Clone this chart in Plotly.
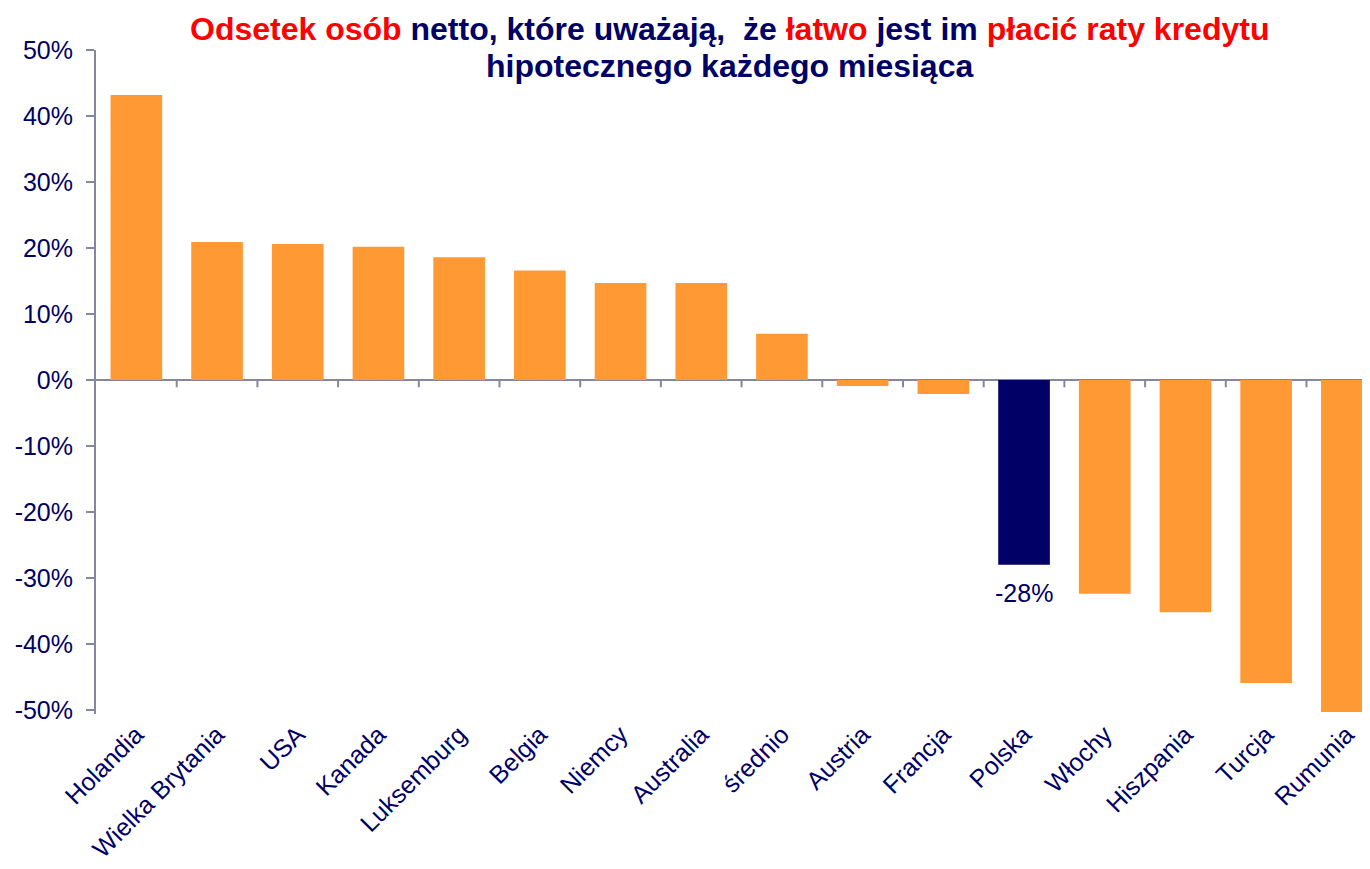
import plotly.graph_objects as go

categories = ["Holandia", "Wielka Brytania", "USA", "Kanada", "Luksemburg", "Belgia",
              "Niemcy", "Australia", "średnio", "Austria", "Francja", "Polska",
              "Włochy", "Hiszpania", "Turcja", "Rumunia"]
values = [43.2, 20.9, 20.6, 20.2, 18.6, 16.6, 14.7, 14.7, 7.0, -0.9, -2.1, -28.0,
          -32.4, -35.2, -45.9, -50.3]
highlight = "Polska"
y_ticks = [-50, -40, -30, -20, -10, 0, 10, 20, 30, 40, 50]
y_tick_labels = [f"{v}%" for v in y_ticks]

ORANGE = "#FF9933"
NAVY = "#000066"
RED = "#FF0000"
AXIS = "#86869E"
FONT = "Arial, Liberation Sans, sans-serif"

colors = [NAVY if c == highlight else ORANGE for c in categories]
hl_value = values[categories.index(highlight)]

fig = go.Figure()
fig.add_trace(go.Bar(
    x=categories, y=values,
    marker=dict(color=colors, line=dict(width=0)),
    width=0.64,
    hoverinfo="skip",
))

# category boundary ticks on the zero line
shapes = []
for k in range(1, len(categories)):
    shapes.append(dict(type="line", xref="x", yref="y", x0=k - 0.5, x1=k - 0.5,
                       y0=0, y1=-1.1, line=dict(color=AXIS, width=2)))

title_line1 = (
    f"<b><span style='color:{RED}'>Odsetek osób</span> netto, które uważają,&nbsp; że "
    f"<span style='color:{RED}'>łatwo</span> jest im "
    f"<span style='color:{RED}'>płacić raty kredytu</span></b>"
)
title_line2 = "<b>hipotecznego każdego miesiąca</b>"

annotations = [
    dict(text=title_line1, xref="paper", yref="paper", x=0.497, y=1.0316,
         xanchor="center", yanchor="middle", showarrow=False,
         font=dict(family=FONT, size=32, color=NAVY)),
    dict(text=title_line2, xref="paper", yref="paper", x=0.497, y=0.976,
         xanchor="center", yanchor="middle", showarrow=False,
         font=dict(family=FONT, size=32, color=NAVY)),
    dict(text=f"{round(hl_value)}%", x=highlight, y=hl_value, xref="x", yref="y",
         xanchor="center", yanchor="top", yshift=-12, showarrow=False,
         font=dict(family=FONT, size=25, color=NAVY)),
]

fig.update_layout(
    width=1362, height=861,
    margin=dict(l=88, r=0, t=42, b=155),
    paper_bgcolor="white", plot_bgcolor="white",
    showlegend=False,
    shapes=shapes,
    annotations=annotations,
    xaxis=dict(range=[-0.5, 15.287], showline=False, showgrid=False, zeroline=False,
               ticks="", tickangle=-45, ticklabelstandoff=0,
               tickfont=dict(family=FONT, size=25, color=NAVY)),
    yaxis=dict(range=[-50.6, 50], tickvals=y_ticks, ticktext=y_tick_labels,
               showgrid=False, zeroline=True, zerolinecolor=AXIS, zerolinewidth=2,
               showline=True, linecolor=AXIS, linewidth=2,
               ticks="outside", ticklen=8, tickwidth=2, tickcolor=AXIS,
               ticklabelstandoff=8,
               tickfont=dict(family=FONT, size=25, color=NAVY)),
)

fig.write_html("out.html")
